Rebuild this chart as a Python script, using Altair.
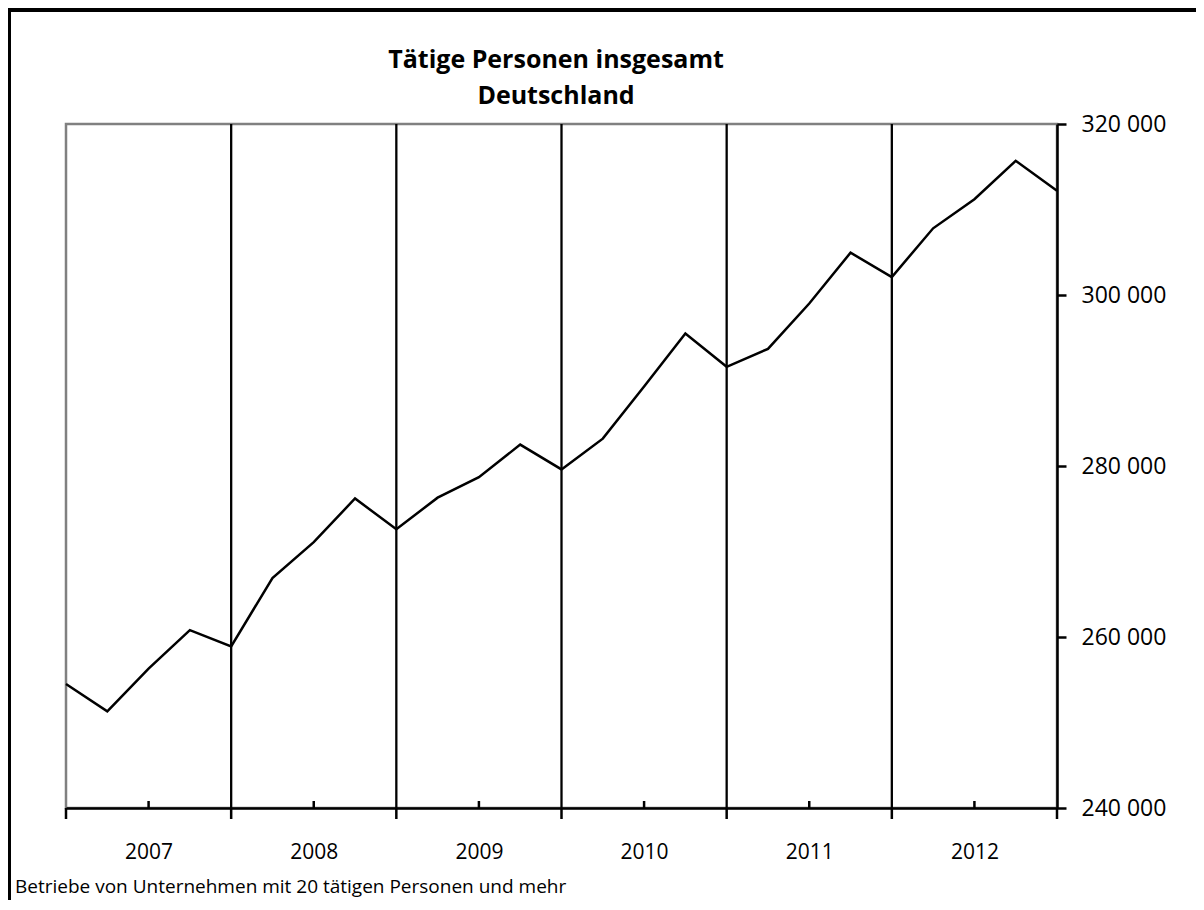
import altair as alt
import pandas as pd

# Quarterly values 2007 Q1 ... 2013 Q1 (index positions along x)
values = [254500, 251300, 256300, 260800, 258900, 266900, 271100, 276200,
          272600, 276300, 278700, 282500, 279600, 283200, 289300, 295500,
          291600, 293700, 299000, 304950, 302100, 307800, 311200, 315700,
          312200]
years = ["2007", "2008", "2009", "2010", "2011", "2012"]
year_bounds = [0, 4, 8, 12, 16, 20, 24]
mid_year = [2, 6, 10, 14, 18, 22]
y_ticks = [240000, 260000, 280000, 300000, 320000]

title_lines = ["Tätige Personen insgesamt", "Deutschland"]
footnote = "Betriebe von Unternehmen mit 20 tätigen Personen und mehr"

W, H = 991, 684
FONT = "Open Sans"

df = pd.DataFrame({"t": list(range(len(values))), "v": values})
grid_df = pd.DataFrame({"t": year_bounds[1:-1]})
major_df = pd.DataFrame({"t": year_bounds})
minor_df = pd.DataFrame({"t": mid_year})
title_df = pd.DataFrame({"line": title_lines, "pos": [-64, -28]})

label_expr = "{" + ",".join(f"'{m}':'{y}'" for m, y in zip(mid_year, years)) + "}[datum.value]"

xscale = alt.Scale(domain=[0, 24], nice=False, zero=False)
yscale = alt.Scale(domain=[240000, 320000], nice=False, zero=False)

xaxis = alt.Axis(values=mid_year, labelExpr=label_expr, ticks=False, grid=False,
                 domainColor="black", domainWidth=2.5, labelFont=FONT,
                 labelFontSize=21, labelColor="black", labelPadding=33, title=None)
yaxis = alt.Axis(orient="right", values=y_ticks,
                 labelExpr="format(datum.value/1000, 'd') + ' 000'",
                 tickSize=9, tickWidth=2.5, tickColor="black", domainColor="black",
                 domainWidth=2.5, grid=False, labelFont=FONT, labelFontSize=23,
                 labelColor="black", labelPadding=15, title=None)

line = alt.Chart(df).mark_line(color="black", strokeWidth=2.5).encode(
    x=alt.X("t:Q", scale=xscale, axis=xaxis),
    y=alt.Y("v:Q", scale=yscale, axis=yaxis),
)

grid = alt.Chart(grid_df).mark_rule(color="black", strokeWidth=2.3).encode(
    x=alt.X("t:Q", scale=xscale),
    y=alt.value(0), y2=alt.value(H),
)

major = alt.Chart(major_df).mark_rule(color="black", strokeWidth=2.5).encode(
    x=alt.X("t:Q", scale=xscale),
    y=alt.value(H), y2=alt.value(H + 11),
)

minor = alt.Chart(minor_df).mark_rule(color="black", strokeWidth=2.5).encode(
    x=alt.X("t:Q", scale=xscale),
    y=alt.value(H - 7), y2=alt.value(H),
)

frame_top = alt.Chart(df.head(1)).mark_rule(color="black", strokeWidth=4).encode(
    x=alt.value(-58), x2=alt.value(W + 139), y=alt.value(-114),
)
frame_left = alt.Chart(df.head(1)).mark_rule(color="black", strokeWidth=3).encode(
    x=alt.value(-56.5), y=alt.value(-116), y2=alt.value(H + 92),
)

title = alt.Chart(title_df).mark_text(align="center", baseline="middle", font=FONT,
                                      fontSize=25, fontWeight="bold", color="black").encode(
    x=alt.value(490), y=alt.Y("pos:Q", scale=None), text="line:N",
)

foot = alt.Chart(df.head(1)).mark_text(align="left", baseline="middle", font=FONT,
                                       fontSize=19, color="black").encode(
    x=alt.value(-51), y=alt.value(763), text=alt.value(footnote),
)

chart = alt.layer(grid, major, minor, line, frame_top, frame_left, title, foot).properties(
    width=W, height=H,
    padding={"left": 58, "top": 116, "right": 139, "bottom": 92},
    autosize=alt.AutoSizeParams(type="none"),
).configure(background="white").configure_view(stroke="#808080", strokeWidth=2.5)

chart.save("out.html", embed_options={"renderer": "svg", "actions": False})
